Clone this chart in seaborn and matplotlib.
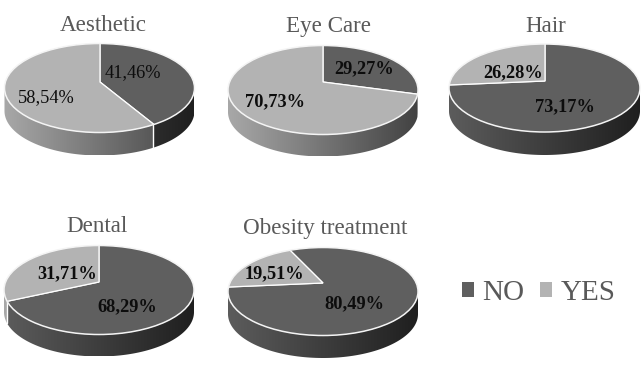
import numpy as np
import matplotlib
matplotlib.use("Agg")
import matplotlib.pyplot as plt
from matplotlib.patches import Ellipse, Polygon, Patch
import seaborn as sns

# ---- data ----
titles = ["Aesthetic", "Eye Care", "Hair", "Dental", "Obesity treatment"]
series_names = ["NO", "YES"]
no_values = [41.46, 29.27, 73.17, 68.29, 80.49]
yes_values = [58.54, 70.73, 26.28, 31.71, 19.51]

# ---- layout (pixels) ----
W, H = 643, 365
# ellipse centre x, centre y, semi axes, apex x, apex y, depth
geom = [
    (99.5, 88, 95, 44.5, 100, 82, 23),
    (323, 90, 95, 44.5, 323, 82, 22),
    (544.5, 88, 95.5, 44, 545, 81, 23),
    (99, 290, 95, 44.5, 99, 282, 22),
    (323, 291.5, 95, 44, 323, 283, 22.5),
]
rotation = [0, 0, 0, 0, 25]  # degrees the first slice start is turned anticlockwise
title_pos = [(103, 31), (328, 32), (546, 32), (97, 232), (325, 234)]  # baselines
no_pos = [(133, 73), (364, 69), (565, 107), (127, 307), (354, 304)]
yes_pos = [(46, 98), (275, 102), (513, 73), (67, 274), (274, 274)]
bold_flags = [False, True, True, True, True]

sns.set_theme(style="white")
plt.rcParams["font.family"] = ["Liberation Serif", "DejaVu Serif"]
palette = sns.color_palette(["#5f5f5f", "#b3b3b3"])
side_colors = [("#5c5c5c", "#1f1f1f"), ("#a8a8a8", "#424242")]


def fmt(v):
    return f"{v:.2f}%".replace(".", ",")


fig = plt.figure(figsize=(W / 100, H / 100), dpi=100, facecolor="white")


def hex_rgb(c):
    return np.array(matplotlib.colors.to_rgb(c))


for i, (cx, cy, a, b, ax_, ay_, depth) in enumerate(geom):
    x0, x1 = cx - a - 3, cx + a + 3
    y0, y1 = cy - b - 3, cy + b + depth + 3
    ax = fig.add_axes([x0 / W, 1 - y1 / H, (x1 - x0) / W, (y1 - y0) / H])
    ex, ey = (cx - ax_) / a, (ay_ - cy) / b
    d = depth / b
    vals = [no_values[i], yes_values[i]]
    wedges, _ = ax.pie(vals, colors=palette, startangle=90 + rotation[i], counterclock=False,
                       radius=4, center=(0, 0),
                       wedgeprops=dict(edgecolor="white", linewidth=0.9, zorder=3))
    ell = Ellipse((ex, ey), 2, 2, facecolor="none", edgecolor="#f4f4f4",
                  linewidth=1.1, zorder=4)
    ax.add_patch(ell)
    for w in wedges:
        w.set_clip_on(True)
        w.set_clip_path(ell)

    # extruded side, following the pie's own wedge angles
    t = np.linspace(np.pi, 2 * np.pi, 400)
    rx, ry = ex + np.cos(t), ey + np.sin(t)
    ang = np.degrees(np.arctan2(ry, rx)) % 360
    clock = (90 + rotation[i] - ang) % 360
    split = 360 * vals[0] / sum(vals)
    masks = [clock < split, clock >= split]
    for mask, (c_left, c_right) in zip(masks, side_colors):
        if not mask.any():
            continue
        px, py = rx[mask], ry[mask]
        poly = np.vstack([np.c_[px, py], np.c_[px[::-1], py[::-1] - d]])
        grad = np.linspace(0, 1, 256)[:, None]
        rgb = (1 - grad) * hex_rgb(c_left) + grad * hex_rgb(c_right)
        img = ax.imshow(rgb[None, :, :], extent=(ex - 1, ex + 1, ey - 1 - d, ey + 1),
                        aspect="auto", zorder=1)
        clip = Polygon(poly, closed=True, transform=ax.transData,
                       facecolor="none", edgecolor="none")
        ax.add_patch(clip)
        img.set_clip_path(clip)
    # white separator on the side where the two colours meet
    idx = np.where(np.diff(masks[0].astype(int)) != 0)[0]
    for k in idx:
        ax.plot([rx[k], rx[k]], [ry[k], ry[k] - d], color="white", lw=1, zorder=2)

    ax.set_aspect("auto")
    ax.set_xlim((x0 - ax_) / a, (x1 - ax_) / a)
    ax.set_ylim((ay_ - y1) / b, (ay_ - y0) / b)
    ax.axis("off")

    weight = "bold" if bold_flags[i] else "normal"
    for pos, v in zip((no_pos[i], yes_pos[i]), vals):
        ax.text((pos[0] - ax_) / a, (ay_ - pos[1]) / b, fmt(v), ha="center", va="center",
                fontsize=13.2, fontweight=weight, color="#0d0d0d", zorder=6)
    fig.text(title_pos[i][0] / W, 1 - title_pos[i][1] / H, titles[i], ha="center",
             va="baseline", fontsize=16.6, color="#595959")

handles = [Patch(facecolor=c, edgecolor="none") for c in palette]
fig.legend(handles, series_names, ncols=2, loc="center", bbox_to_anchor=(538.5 / W, 1 - 292.5 / H),
           frameon=False, fontsize=21, labelcolor="#595959", handlelength=0.41,
           handleheight=0.41, handletextpad=0.31, columnspacing=0.51)

fig.savefig("out.png", dpi=100, facecolor="white")
